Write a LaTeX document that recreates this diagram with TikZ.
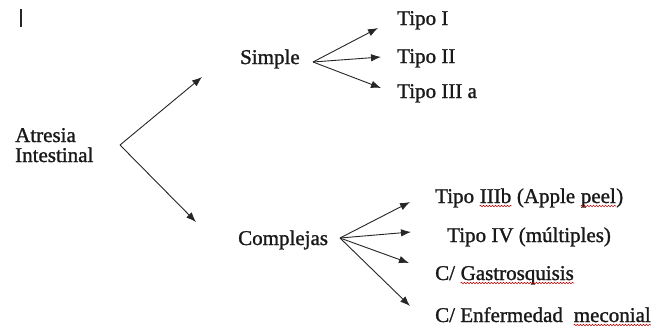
\documentclass[tikz,border=0pt]{standalone}
\usepackage{fontspec}
\setmainfont{Liberation Serif}[FakeBold=1.2]
\usetikzlibrary{arrows.meta,decorations.pathmorphing}
\begin{document}
\begin{tikzpicture}[x=1pt,y=-1pt,
  lbl/.style={anchor=base west,inner sep=0pt,font=\fontsize{21}{25}\selectfont,text=black!90},
  branch/.style={draw=black!85,line width=0.9pt,-{Latex[length=10pt,width=7.5pt]}},
  spellmark/.style={draw=red!75!black,line width=0.5pt,
    decorate,decoration={snake,segment length=3pt,amplitude=0.8pt}}]
\useasboundingbox[fill=white] (0,0) rectangle (655,327);
% text cursor
\draw[line width=2.6pt,black!85] (21,9) -- (21,27);

% root
\node[lbl] (root1) at (15,142) {Atresia};
\node[lbl] (root2) at (15,162) {Intestinal};
\coordinate (rf) at (120,145);

% first level
\node[lbl] (simple) at (240,64) {Simple};
\node[lbl] (compl) at (238,245) {Complejas};
\coordinate (sf) at (313,62);
\coordinate (cf) at (340,238);
\coordinate (tS) at (202,77);
\coordinate (tC) at (196,222);
\draw[branch] (rf) -- (tS);
\draw[branch] (rf) -- (tC);

% simple types
\node[lbl] (t1) at (397,25) {Tipo I};
\node[lbl] (t2) at (397,63) {Tipo II};
\node[lbl] (t3) at (397,98) {Tipo III a};
\coordinate (a1) at (378,28);
\coordinate (a2) at (381,57);
\coordinate (a3) at (381,88);
\draw[branch] (sf) -- (a1);
\draw[branch] (sf) -- (a2);
\draw[branch] (sf) -- (a3);

% complex types, split where words carry a spelling mark
\node[lbl] (c1a) at (435,203) {Tipo\ \mbox{}};
\node[lbl] (c1b) at (c1a.base east) {IIIb};
\node[lbl] (c1c) at (c1b.base east) {\ (Apple\ \mbox{}};
\node[lbl] (c1d) at (c1c.base east) {peel};
\node[lbl] (c1e) at (c1d.base east) {)};
\node[lbl] (c2) at (447,242) {Tipo IV (múltiples)};
\node[lbl] (c3a) at (435,280) {C/\ \mbox{}};
\node[lbl] (c3b) at (c3a.base east) {Gastrosquisis};
\node[lbl] (c4a) at (435,322) {C/ Enfermedad\ \ \mbox{}};
\node[lbl] (c4b) at (c4a.base east) {meconial};
\foreach \w in {c1b,c1d,c3b,c4b}
  \draw[spellmark] ([yshift=-3pt]\w.base west) -- ([yshift=-3pt]\w.base east);

\coordinate (b1) at (410,202);
\coordinate (b2) at (411,232);
\coordinate (b3) at (409,263);
\coordinate (b4) at (410,306);
\draw[branch] (cf) -- (b1);
\draw[branch] (cf) -- (b2);
\draw[branch] (cf) -- (b3);
\draw[branch] (cf) -- (b4);
\end{tikzpicture}
\end{document}
